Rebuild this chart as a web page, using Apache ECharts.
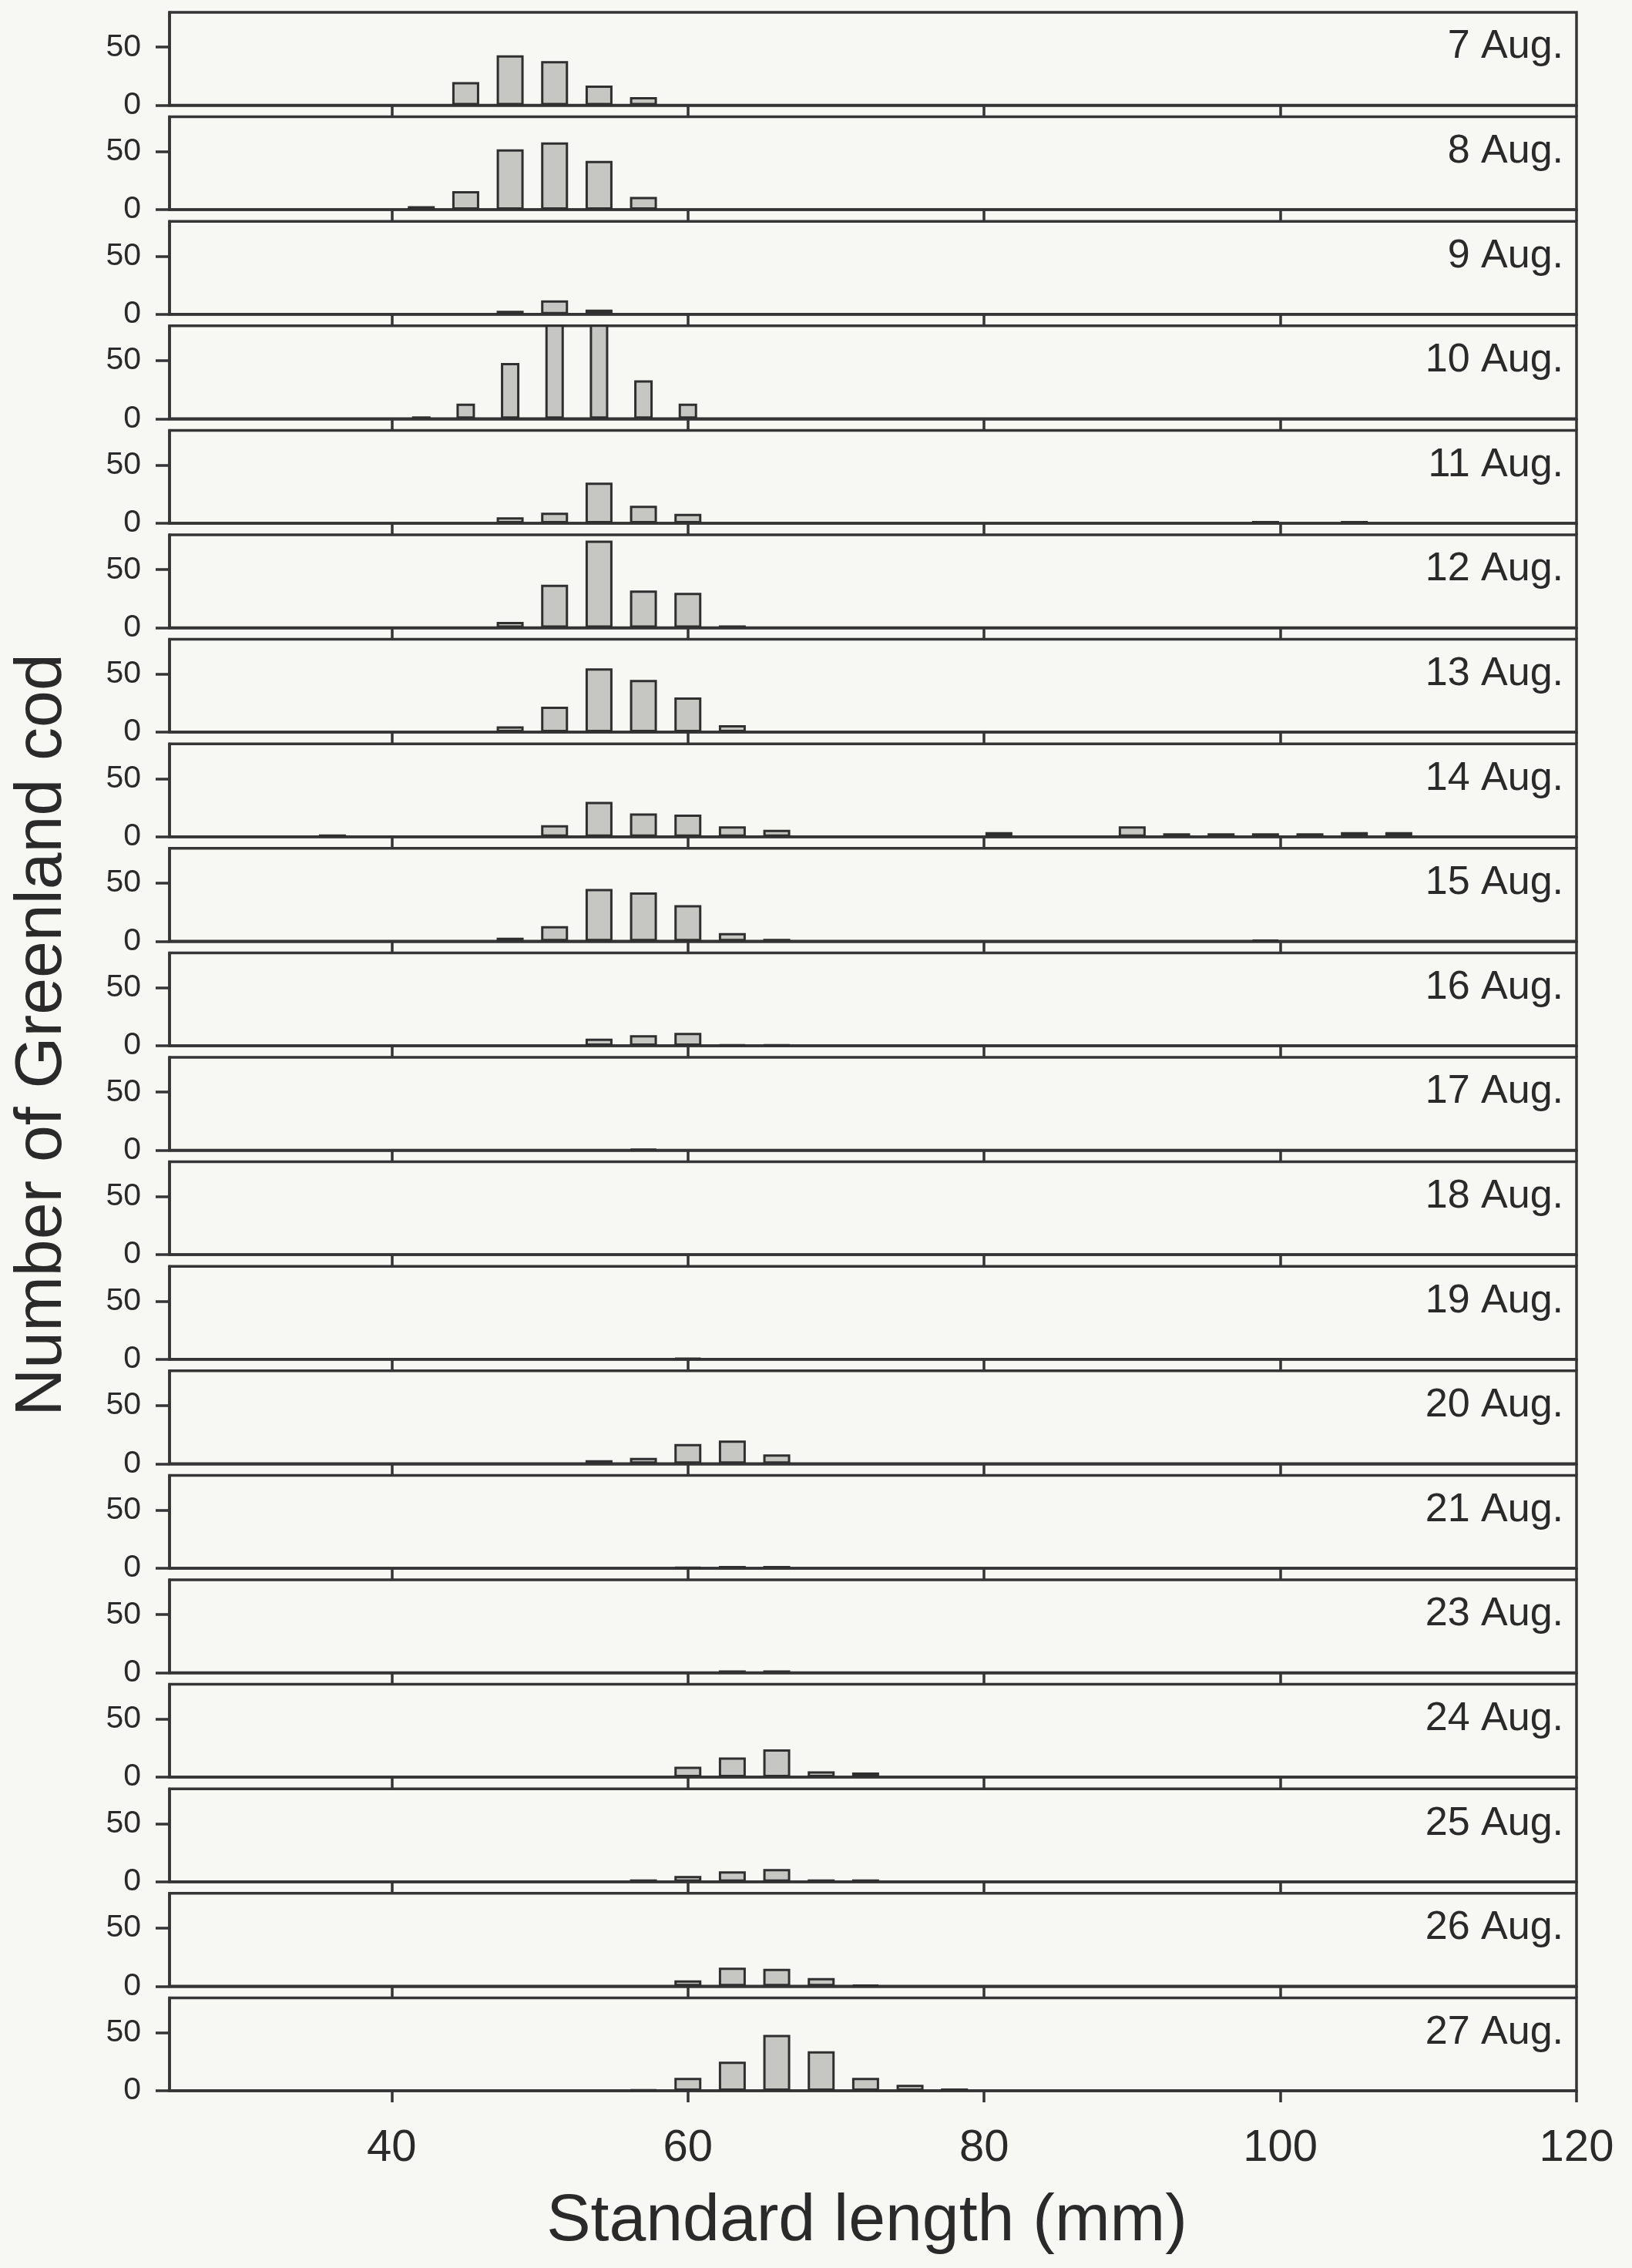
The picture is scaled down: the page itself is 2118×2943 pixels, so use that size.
<!DOCTYPE html>
<html>
<head>
<meta charset="utf-8">
<script src="https://cdn.jsdelivr.net/npm/echarts@6/dist/echarts.min.js"></script>
<style>
  html, body { margin: 0; padding: 0; background: #f7f7f4; }
  #chart { width: 2118px; height: 2943px; }
</style>
</head>
<body>
<div id="chart"></div>
<script>
// Length bins (mm, bin centres)
const bins = [36, 39, 42, 45, 48, 51, 54, 57, 60, 63, 66, 69, 72, 75, 78, 81, 84, 87, 90, 93, 96, 99, 102, 105, 108];

// Panel labels
const dates = ['7 Aug.', '8 Aug.', '9 Aug.', '10 Aug.', '11 Aug.', '12 Aug.', '13 Aug.', '14 Aug.', '15 Aug.', '16 Aug.',
               '17 Aug.', '18 Aug.', '19 Aug.', '20 Aug.', '21 Aug.', '23 Aug.', '24 Aug.', '25 Aug.', '26 Aug.', '27 Aug.'];

// Counts per bin for each date
const aug07 = [0, 0, 0, 20, 43, 38, 17, 7, 0, 0, 0, 0, 0, 0, 0, 0, 0, 0, 0, 0, 0, 0, 0, 0, 0];
const aug08 = [0, 0, 3, 16, 52, 58, 42, 11, 0, 0, 0, 0, 0, 0, 0, 0, 0, 0, 0, 0, 0, 0, 0, 0, 0];
const aug09 = [0, 0, 0, 0, 3, 12, 4, 0, 0, 0, 0, 0, 0, 0, 0, 0, 0, 0, 0, 0, 0, 0, 0, 0, 0];
const aug10 = [0, 0, 2, 13, 48, 98, 92, 33, 13, 0, 0, 0, 0, 0, 0, 0, 0, 0, 0, 0, 0, 0, 0, 0, 0];
const aug11 = [0, 0, 0, 0, 5, 9, 35, 15, 8, 0, 0, 0, 0, 0, 0, 0, 0, 0, 0, 0, 0, 2, 0, 2, 0];
const aug12 = [0, 0, 0, 0, 5, 37, 75, 32, 30, 2, 0, 0, 0, 0, 0, 0, 0, 0, 0, 0, 0, 0, 0, 0, 0];
const aug13 = [0, 0, 0, 0, 5, 22, 55, 45, 30, 6, 0, 0, 0, 0, 0, 0, 0, 0, 0, 0, 0, 0, 0, 0, 0];
const aug14 = [2, 0, 0, 0, 0, 10, 30, 20, 19, 9, 6, 0, 0, 0, 0, 4, 0, 0, 9, 3, 3, 3, 3, 4, 4];
const aug15 = [0, 0, 0, 0, 3, 13, 45, 42, 31, 7, 2, 0, 0, 0, 0, 0, 0, 0, 0, 0, 0, 1, 0, 0, 0];
const aug16 = [0, 0, 0, 0, 0, 0, 6, 9, 11, 1, 1, 0, 0, 0, 0, 0, 0, 0, 0, 0, 0, 0, 0, 0, 0];
const aug17 = [0, 0, 0, 0, 0, 0, 0, 1, 0, 0, 0, 0, 0, 0, 0, 0, 0, 0, 0, 0, 0, 0, 0, 0, 0];
const aug18 = [0, 0, 0, 0, 0, 0, 0, 0, 0, 0, 0, 0, 0, 0, 0, 0, 0, 0, 0, 0, 0, 0, 0, 0, 0];
const aug19 = [0, 0, 0, 0, 0, 0, 0, 0, 1, 0, 0, 0, 0, 0, 0, 0, 0, 0, 0, 0, 0, 0, 0, 0, 0];
const aug20 = [0, 0, 0, 0, 0, 0, 3, 5, 17, 20, 8, 0, 0, 0, 0, 0, 0, 0, 0, 0, 0, 0, 0, 0, 0];
const aug21 = [0, 0, 0, 0, 0, 0, 0, 0, 1, 2, 2, 0, 0, 0, 0, 0, 0, 0, 0, 0, 0, 0, 0, 0, 0];
const aug23 = [0, 0, 0, 0, 0, 0, 0, 0, 0, 2, 2, 0, 0, 0, 0, 0, 0, 0, 0, 0, 0, 0, 0, 0, 0];
const aug24 = [0, 0, 0, 0, 0, 0, 0, 0, 9, 17, 24, 5, 4, 0, 0, 0, 0, 0, 0, 0, 0, 0, 0, 0, 0];
const aug25 = [0, 0, 0, 0, 0, 0, 0, 2, 5, 9, 11, 2, 2, 0, 0, 0, 0, 0, 0, 0, 0, 0, 0, 0, 0];
const aug26 = [0, 0, 0, 0, 0, 0, 0, 0, 5, 16, 15, 7, 1, 0, 0, 0, 0, 0, 0, 0, 0, 0, 0, 0, 0];
const aug27 = [0, 0, 0, 0, 0, 0, 0, 1, 11, 25, 48, 34, 11, 5, 2, 0, 0, 0, 0, 0, 0, 0, 0, 0, 0];

const counts = [aug07, aug08, aug09, aug10, aug11, aug12, aug13, aug14, aug15, aug16,
                aug17, aug18, aug19, aug20, aug21, aug23, aug24, aug25, aug26, aug27];

// Axis ticks
const xTicks = [40, 60, 80, 100, 120];
const yTicks = [0, 50];

// ---- layout (styling only) ----
const FONT = '"Liberation Sans", Arial, Helvetica, sans-serif';
const INK = '#353535';
const TXT = '#2a2a2a';
const LW = 3.5;
const LEFT = 220, WIDTH = 1826;
const TOP0 = 16, STEP = 135.6, H = 120.5;
const n = dates.length;

const grids = [], xAxes = [], yAxes = [], series = [], titles = [];
for (let i = 0; i < n; i++) {
  const top = TOP0 + i * STEP;
  const last = i === n - 1;
  grids.push({
    left: LEFT, top: top, width: WIDTH, height: H,
    show: true, borderColor: INK, borderWidth: LW, backgroundColor: 'transparent'
  });
  xAxes.push({
    type: 'value', gridIndex: i, min: 25, max: 120,
    position: 'bottom',
    axisLine: { show: true, onZero: false, lineStyle: { color: INK, width: LW } },
    axisTick: { show: true, inside: false, length: 15, customValues: xTicks, lineStyle: { color: INK, width: LW } },
    axisLabel: {
      show: last, customValues: xTicks, margin: 46,
      fontSize: 58, fontFamily: FONT, color: TXT
    },
    splitLine: { show: false }
  });
  yAxes.push({
    type: 'value', gridIndex: i, min: 0, max: 80,
    axisLine: { show: true, lineStyle: { color: INK, width: LW } },
    axisTick: { show: true, inside: false, length: 18, customValues: yTicks, lineStyle: { color: INK, width: LW } },
    axisLabel: { show: true, customValues: yTicks, margin: 37, fontSize: 41, fontFamily: FONT, color: TXT },
    splitLine: { show: false }
  });
  series.push({
    type: 'bar', xAxisIndex: i, yAxisIndex: i,
    barWidth: i === 3 ? 24 : 35,
    clip: true,
    itemStyle: { color: '#c6c6c3', borderColor: '#2f2f2f', borderWidth: 3 },
    data: bins.map((b, j) => [b, counts[i][j]]).filter(d => d[1] > 0)
  });
  titles.push({
    text: dates[i], right: 84, top: top + 14,
    textStyle: { fontSize: 52, fontWeight: 'normal', fontFamily: FONT, color: TXT, lineHeight: 52 }
  });
}

const chart = echarts.init(document.getElementById('chart'), null, { renderer: 'canvas' });
chart.setOption({
  backgroundColor: '#f7f7f4',
  animation: false,
  title: titles,
  grid: grids,
  xAxis: xAxes,
  yAxis: yAxes,
  series: series,
  graphic: [
    {
      type: 'text', x: 55, y: 1343, rotation: Math.PI / 2,
      style: { text: 'Number of Greenland cod', fontSize: 86, fontFamily: FONT, fill: TXT,
               align: 'center', verticalAlign: 'middle' }
    },
    {
      type: 'text', x: 1125, y: 2883,
      style: { text: 'Standard length (mm)', fontSize: 86, fontFamily: FONT, fill: TXT,
               align: 'center', verticalAlign: 'middle' }
    }
  ]
});
</script>
</body>
</html>
